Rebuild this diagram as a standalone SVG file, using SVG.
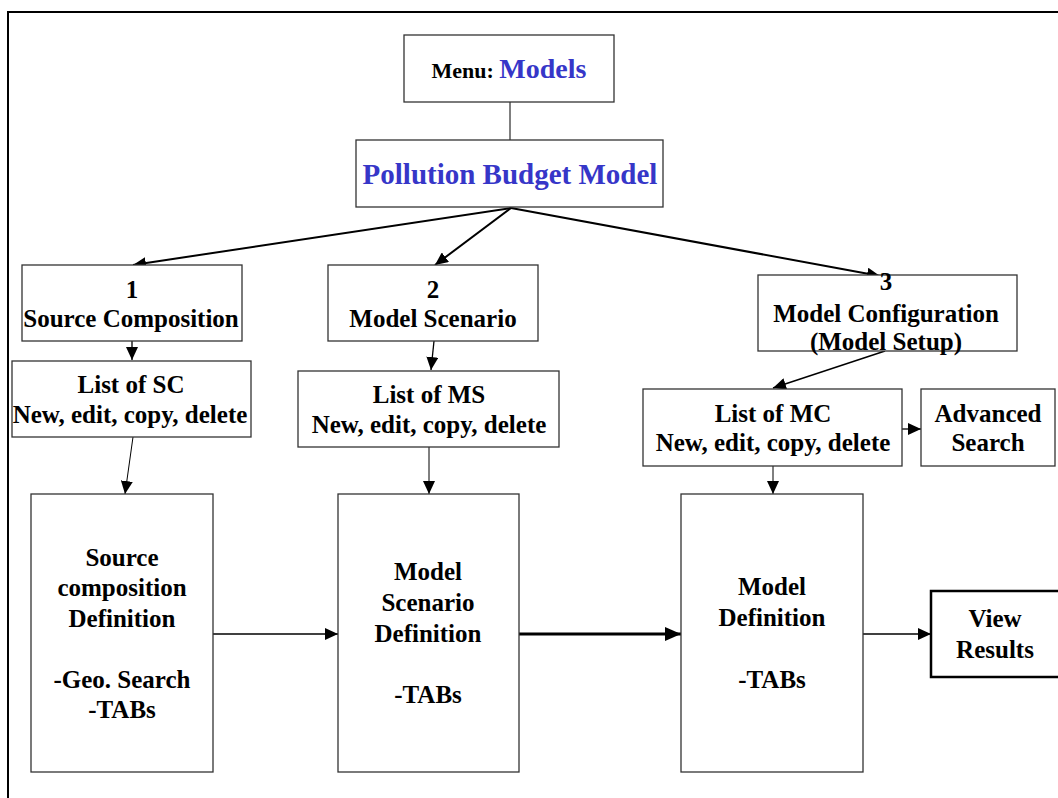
<svg xmlns="http://www.w3.org/2000/svg" width="1058" height="798" viewBox="0 0 1058 798">
<style>
.bx{fill:#fff;stroke:#333;stroke-width:1.3}
.t{font-family:"Liberation Serif","Times New Roman",serif;font-weight:bold;font-size:25px;fill:#000;text-anchor:middle}
.blue{fill:#3636c8}
.big{font-size:29px}
.c{stroke:#000;fill:none}
</style>
<defs>
<marker id="ah" markerUnits="userSpaceOnUse" markerWidth="13" markerHeight="12" refX="13" refY="6" orient="auto">
<path d="M0,0 L13,6 L0,12 z" fill="#000"/>
</marker>
<marker id="ahb" markerUnits="userSpaceOnUse" markerWidth="16" markerHeight="14" refX="16" refY="7" orient="auto">
<path d="M0,0 L16,7 L0,14 z" fill="#000"/>
</marker>
</defs>
<rect width="1058" height="798" fill="#fff"/>
<path d="M8,798 V12 H1058" fill="none" stroke="#000" stroke-width="2"/>

<g id="connectors">
<line class="c" x1="510" y1="102" x2="510" y2="140" stroke-width="1"/>
<line class="c" x1="511" y1="208" x2="133" y2="265" stroke-width="2" marker-end="url(#ah)"/>
<line class="c" x1="511" y1="208" x2="435" y2="265" stroke-width="2" marker-end="url(#ah)"/>
<line class="c" x1="511" y1="208" x2="880" y2="276" stroke-width="2" marker-end="url(#ah)"/>
<line class="c" x1="132" y1="341" x2="132" y2="360" stroke-width="1.3" marker-end="url(#ah)"/>
<line class="c" x1="434" y1="341" x2="431" y2="370" stroke-width="1.3" marker-end="url(#ah)"/>
<line class="c" x1="885" y1="351" x2="773" y2="388" stroke-width="1.5" marker-end="url(#ah)"/>
<line class="c" x1="902" y1="429" x2="921" y2="429" stroke-width="1.3" marker-end="url(#ah)"/>
<line class="c" x1="133" y1="437" x2="125" y2="494" stroke-width="1" marker-end="url(#ah)"/>
<line class="c" x1="429" y1="447" x2="429" y2="494" stroke-width="1" marker-end="url(#ah)"/>
<line class="c" x1="773" y1="466" x2="773" y2="494" stroke-width="1" marker-end="url(#ah)"/>
<line class="c" x1="213" y1="634" x2="338" y2="634" stroke-width="1.3" marker-end="url(#ah)"/>
<line class="c" x1="519" y1="634" x2="681" y2="634" stroke-width="3" marker-end="url(#ahb)"/>
<line class="c" x1="863" y1="634" x2="931" y2="634" stroke-width="1.3" marker-end="url(#ah)"/>
</g>

<g id="menu">
<rect class="bx" x="404" y="35" width="210" height="67"/>
<text class="t" x="509" y="78"><tspan font-size="22">Menu: </tspan><tspan class="blue" font-size="28">Models</tspan></text>
</g>
<g id="pollution">
<rect class="bx" x="356" y="140" width="307" height="67"/>
<text class="t blue big" x="510" y="184">Pollution Budget Model</text>
</g>
<g id="sc">
<rect class="bx" x="22" y="265" width="220" height="76"/>
<text class="t" x="132" y="298">1</text>
<text class="t" x="131" y="327">Source Composition</text>
</g>
<g id="ms">
<rect class="bx" x="328" y="265" width="210" height="76"/>
<text class="t" x="433" y="298">2</text>
<text class="t" x="433" y="327">Model Scenario</text>
</g>
<g id="mc">
<rect class="bx" x="758" y="275" width="259" height="76"/>
<text class="t" x="886" y="290">3</text>
<text class="t" x="886" y="322">Model Configuration</text>
<text class="t" x="886" y="350">(Model Setup)</text>
</g>
<g id="list-sc">
<rect class="bx" x="12" y="361" width="239" height="76"/>
<text class="t" x="131" y="393">List of SC</text>
<text class="t" x="130" y="423">New, edit, copy, delete</text>
</g>
<g id="list-ms">
<rect class="bx" x="298" y="371" width="261" height="76"/>
<text class="t" x="429" y="403">List of MS</text>
<text class="t" x="429" y="433">New, edit, copy, delete</text>
</g>
<g id="list-mc">
<rect class="bx" x="643" y="389" width="259" height="77"/>
<text class="t" x="773" y="422">List of MC</text>
<text class="t" x="773" y="451">New, edit, copy, delete</text>
</g>
<g id="adv">
<rect class="bx" x="921" y="389" width="134" height="77"/>
<text class="t" x="988" y="422">Advanced</text>
<text class="t" x="988" y="451">Search</text>
</g>
<g id="sc-def">
<rect class="bx" x="31" y="494" width="182" height="278"/>
<text class="t" x="122" y="566">Source</text>
<text class="t" x="122" y="596">composition</text>
<text class="t" x="122" y="627">Definition</text>
<text class="t" x="122" y="688">-Geo. Search</text>
<text class="t" x="122" y="718">-TABs</text>
</g>
<g id="ms-def">
<rect class="bx" x="338" y="494" width="181" height="278"/>
<text class="t" x="428" y="580">Model</text>
<text class="t" x="428" y="611">Scenario</text>
<text class="t" x="428" y="642">Definition</text>
<text class="t" x="428" y="703">-TABs</text>
</g>
<g id="model-def">
<rect class="bx" x="681" y="494" width="182" height="278"/>
<text class="t" x="772" y="595">Model</text>
<text class="t" x="772" y="626">Definition</text>
<text class="t" x="772" y="688">-TABs</text>
</g>
<g id="view">
<rect x="931" y="591" width="140" height="86" fill="#fff" stroke="#000" stroke-width="2.5"/>
<text class="t" x="995" y="627">View</text>
<text class="t" x="995" y="658">Results</text>
</g>
</svg>
